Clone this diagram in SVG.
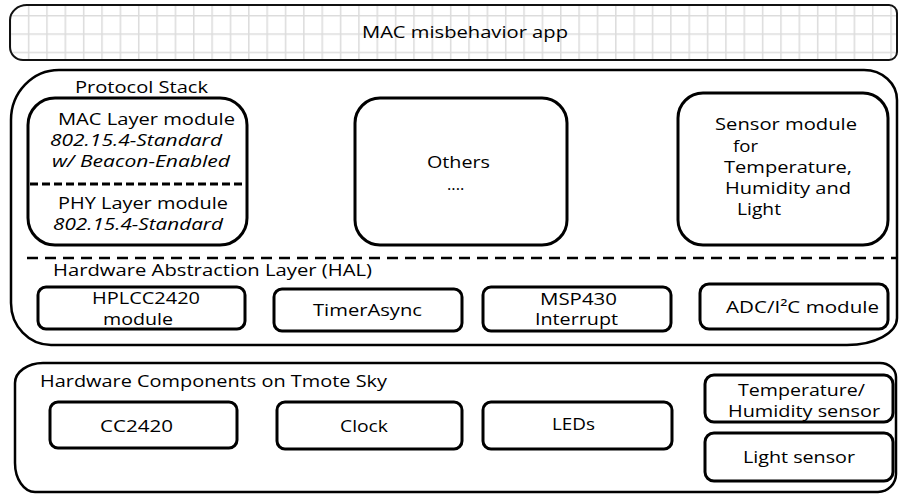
<svg xmlns="http://www.w3.org/2000/svg" width="899" height="494" viewBox="0 0 899 494">
<defs>
<pattern id="grid" x="9.5" y="15" width="18.35" height="18.35" patternUnits="userSpaceOnUse">
<rect width="18.35" height="18.35" fill="#ffffff"/>
<path d="M0.75,0 V18.35 M0,0.75 H18.35" stroke="#dcdcdc" stroke-width="1.5" fill="none"/>
</pattern>
<style>
text{font-family:"Open Sans","Liberation Sans",sans-serif;font-size:16.5px;fill:#000}
.it{font-style:italic}
.sm{font-size:16px}
.xs{font-size:15.5px}
.frame{fill:none;stroke:#000;stroke-width:2.5}
.box{fill:#fff;stroke:#000;stroke-width:3}
.dash1{stroke:#000;stroke-width:3;stroke-dasharray:8 4;fill:none}
.dash2{stroke:#000;stroke-width:2.5;stroke-dasharray:11 7;fill:none}
</style>
</defs>
<rect width="899" height="494" fill="#fff"/>

<g id="app">
<path d="M27,5 H889 A8,8 0 0 1 897,13 V52 A8,8 0 0 1 889,60 H23 A13,13 0 0 1 10,47 V20 A17,15 0 0 1 27,5 Z" fill="url(#grid)" stroke="#111" stroke-width="2"/>
<text x="362" y="38" textLength="206" lengthAdjust="spacingAndGlyphs">MAC misbehavior app</text>
</g>

<g id="protocol-stack">
<path class="frame" stroke-width="3" d="M59,70 H864 A33,30 0 0 1 897,100 V318 A50,27 0 0 1 847,345 H51 A40,42 0 0 1 11,303 V120 A48,50 0 0 1 59,70 Z"/>
<text x="75" y="93" textLength="133" lengthAdjust="spacingAndGlyphs">Protocol Stack</text>
<path class="dash2" d="M27,258 H897"/>
<text x="53" y="276" textLength="319" lengthAdjust="spacingAndGlyphs">Hardware Abstraction Layer (HAL)</text>
</g>

<g id="mac-phy">
<rect class="box" x="28" y="98" width="219" height="147" rx="27" ry="27" stroke-width="3.5"/>
<path class="dash1" d="M30,184 H246"/>
<text x="58" y="125" textLength="177" lengthAdjust="spacingAndGlyphs">MAC Layer module</text>
<text class="it" x="50" y="146" textLength="172" lengthAdjust="spacingAndGlyphs">802.15.4-Standard</text>
<text class="it" x="52" y="167" textLength="178" lengthAdjust="spacingAndGlyphs">w/ Beacon-Enabled</text>
<text x="58" y="209" textLength="170" lengthAdjust="spacingAndGlyphs">PHY Layer module</text>
<text class="it" x="53" y="230" textLength="170" lengthAdjust="spacingAndGlyphs">802.15.4-Standard</text>
</g>

<g id="others">
<rect class="box" x="355" y="98" width="212" height="147" rx="25" ry="25"/>
<text x="427" y="168" textLength="63" lengthAdjust="spacingAndGlyphs">Others</text>
<text x="447" y="190">....</text>
</g>

<g id="sensor-module">
<rect class="box" x="678" y="93" width="210" height="152" rx="25" ry="25"/>
<text class="xs" x="715" y="130" textLength="142" lengthAdjust="spacingAndGlyphs">Sensor module</text>
<text class="xs" x="733" y="152" textLength="25" lengthAdjust="spacingAndGlyphs">for</text>
<text class="xs" x="724" y="173" textLength="128" lengthAdjust="spacingAndGlyphs">Temperature,</text>
<text class="xs" x="725" y="194" textLength="126" lengthAdjust="spacingAndGlyphs">Humidity and</text>
<text class="xs" x="737" y="215" textLength="44" lengthAdjust="spacingAndGlyphs">Light</text>
</g>

<g id="hplcc2420">
<rect class="box" x="38" y="287" width="207" height="42" rx="8" ry="8"/>
<text class="sm" x="92" y="304" textLength="108" lengthAdjust="spacingAndGlyphs">HPLCC2420</text>
<text class="sm" x="103" y="325" textLength="70" lengthAdjust="spacingAndGlyphs">module</text>
</g>

<g id="timerasync">
<rect class="box" x="274" y="289" width="188" height="42" rx="8" ry="8"/>
<text x="313" y="316" textLength="109" lengthAdjust="spacingAndGlyphs">TimerAsync</text>
</g>

<g id="msp430">
<rect class="box" x="483" y="287" width="188" height="44" rx="8" ry="8"/>
<text class="sm" x="540" y="305" textLength="77" lengthAdjust="spacingAndGlyphs">MSP430</text>
<text class="sm" x="535" y="325" textLength="83" lengthAdjust="spacingAndGlyphs">Interrupt</text>
</g>

<g id="adc-i2c">
<rect class="box" x="700" y="284" width="188" height="45" rx="9" ry="9"/>
<text x="726" y="313" textLength="153" lengthAdjust="spacingAndGlyphs">ADC/I²C module</text>
</g>

<g id="hardware-components">
<path class="frame" d="M43,363 H880 A16,14 0 0 1 896,377 V474 A18,18 0 0 1 878,492 H35 A20,29 0 0 1 15,463 V383 A28,20 0 0 1 43,363 Z"/>
<text x="40" y="387" textLength="347" lengthAdjust="spacingAndGlyphs">Hardware Components on Tmote Sky</text>
</g>

<g id="cc2420">
<rect class="box" x="50" y="402" width="187" height="46" rx="8" ry="8"/>
<text x="100" y="432" textLength="73" lengthAdjust="spacingAndGlyphs">CC2420</text>
</g>

<g id="clock">
<rect class="box" x="277" y="402" width="185" height="47" rx="8" ry="8"/>
<text x="340" y="432" textLength="48" lengthAdjust="spacingAndGlyphs">Clock</text>
</g>

<g id="leds">
<rect class="box" x="483" y="402" width="189" height="47" rx="8" ry="8"/>
<text x="552" y="430" textLength="43" lengthAdjust="spacingAndGlyphs">LEDs</text>
</g>

<g id="temp-humidity-sensor">
<rect class="box" x="705" y="375" width="188" height="47" rx="9" ry="9"/>
<text class="sm" x="738" y="396" textLength="127" lengthAdjust="spacingAndGlyphs">Temperature/</text>
<text class="sm" x="728" y="417" textLength="152" lengthAdjust="spacingAndGlyphs">Humidity sensor</text>
</g>

<g id="light-sensor">
<rect class="box" x="705" y="433" width="188" height="48" rx="9" ry="9"/>
<text x="743" y="463" textLength="112" lengthAdjust="spacingAndGlyphs">Light sensor</text>
</g>

<g id="connectors"></g>
</svg>
